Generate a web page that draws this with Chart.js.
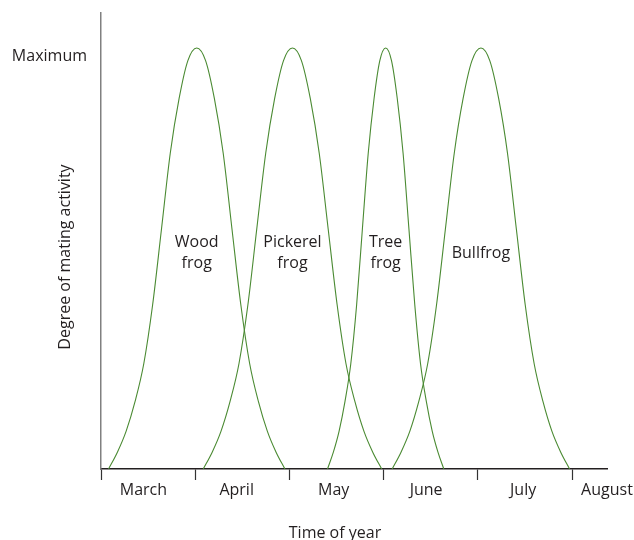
<!DOCTYPE html>
<html>
<head>
<meta charset="utf-8">
<script src="https://cdn.jsdelivr.net/npm/chart.js@4"></script>
<style>
  html, body { margin: 0; padding: 0; background: #fff; }
  #wrap { width: 634px; height: 540px; }
</style>
</head>
<body>
<div id="wrap"><canvas id="frogChart" width="634" height="540"></canvas></div>
<script>
// x = months after 1 March, y = degree of mating activity (100 = maximum)
const monthNames = ['March', 'April', 'May', 'June', 'July', 'August'];
const monthLabelPos = [0.45, 1.44, 2.47, 3.45, 4.48, 5.37];
const monthBounds = [0, 1, 2, 3, 4, 5];
const yTickValues = [98];
const yTickLabels = ['Maximum'];

const woodX = [0.080, 0.174, 0.267, 0.361, 0.454, 0.548, 0.642, 0.735, 0.829, 0.922, 1.016,
               1.110, 1.203, 1.297, 1.390, 1.484, 1.578, 1.671, 1.765, 1.858, 1.952];
const woodY = [0, 4, 9, 16, 25, 39, 57, 75, 88, 97, 100, 97, 88, 75, 57, 39, 25, 16, 9, 4, 0];

const pickerelX = [1.085, 1.180, 1.274, 1.369, 1.464, 1.559, 1.653, 1.748, 1.843, 1.937, 2.032,
                   2.127, 2.221, 2.316, 2.411, 2.506, 2.600, 2.695, 2.790, 2.884, 2.979];
const pickerelY = [0, 4, 9, 16, 25, 39, 57, 75, 88, 97, 100, 97, 88, 75, 57, 39, 25, 16, 9, 4, 0];

const treeX = [2.404, 2.466, 2.527, 2.589, 2.651, 2.713, 2.774, 2.836, 2.898, 2.959, 3.021,
               3.083, 3.144, 3.206, 3.268, 3.330, 3.391, 3.453, 3.515, 3.576, 3.638];
const treeY = [0, 4, 9, 16, 25, 39, 57, 75, 88, 97, 100, 97, 88, 75, 57, 39, 25, 16, 9, 4, 0];

const bullX = [3.090, 3.184, 3.278, 3.372, 3.467, 3.561, 3.655, 3.749, 3.843, 3.937, 4.032,
               4.126, 4.220, 4.314, 4.408, 4.502, 4.597, 4.691, 4.785, 4.879, 4.973];
const bullY = [0, 4, 9, 16, 25, 39, 57, 75, 88, 97, 100, 97, 88, 75, 57, 39, 25, 16, 9, 4, 0];

const seriesNames = [['Wood', 'frog'], ['Pickerel', 'frog'], ['Tree', 'frog'], ['Bullfrog']];

const FONT = '"Open Sans", "DejaVu Sans", sans-serif';
const TEXT = '#231f20';
const GREEN = '#4a8a32';

function toPoints(xs, ys) {
    return xs.map((x, i) => ({ x: x, y: ys[i] }));
}

function makeSet(name, xs, ys) {
    return {
        label: name,
        data: toPoints(xs, ys),
        borderColor: GREEN,
        borderWidth: 1.1,
        pointRadius: 0,
        fill: false,
        cubicInterpolationMode: 'monotone'
    };
}

// axis titles and the frog names inside the curves
const textPlugin = {
    id: 'textPlugin',
    afterDatasetsDraw(chart) {
        const { ctx, scales: { x, y } } = chart;
        ctx.save();
        ctx.fillStyle = TEXT;
        ctx.font = '16px ' + FONT;
        ctx.textAlign = 'center';
        ctx.textBaseline = 'alphabetic';

        chart.data.datasets.forEach((ds, i) => {
            const peak = ds.data.reduce((a, b) => (b.y > a.y ? b : a));
            const px = x.getPixelForValue(peak.x);
            const lines = seriesNames[i];
            const base = lines.length > 1 ? y.getPixelForValue(52.7) : y.getPixelForValue(50);
            lines.forEach((t, j) => ctx.fillText(t, px, base + j * 21));
        });

        // x title
        ctx.fillText('Time of year', 335, 538);

        // y title
        ctx.translate(70, 257);
        ctx.rotate(-Math.PI / 2);
        ctx.fillText('Degree of mating activity', 0, 0);
        ctx.restore();
    }
};

new Chart(document.getElementById('frogChart').getContext('2d'), {
    type: 'line',
    data: {
        datasets: [
            makeSet('Wood frog', woodX, woodY),
            makeSet('Pickerel frog', pickerelX, pickerelY),
            makeSet('Tree frog', treeX, treeY),
            makeSet('Bullfrog', bullX, bullY)
        ]
    },
    options: {
        responsive: false,
        animation: false,
        layout: { padding: { top: 13, right: 27, bottom: 0, left: 0 } },
        plugins: {
            legend: { display: false },
            tooltip: { enabled: false }
        },
        scales: {
            x: {
                type: 'linear',
                min: 0,
                max: 5.37,
                afterBuildTicks: s => {
                    s.ticks = monthBounds.concat(monthLabelPos).map(v => ({ value: v }));
                },
                afterFit: s => { s.height = 71; s.paddingLeft = 0; s.paddingRight = 0; },
                ticks: {
                    autoSkip: false,
                    maxRotation: 0,
                    padding: 1,
                    color: TEXT,
                    font: { family: FONT, size: 16 },
                    callback: v => {
                        const i = monthLabelPos.indexOf(v);
                        return i >= 0 ? monthNames[i] : '';
                    }
                },
                grid: {
                    drawOnChartArea: false,
                    drawTicks: true,
                    tickLength: 11,
                    tickWidth: 1.2,
                    tickColor: c => (c.tick && monthBounds.includes(c.tick.value)) ? '#333' : 'rgba(0,0,0,0)'
                },
                border: { display: true, color: '#231f20', width: 1.5 }
            },
            y: {
                min: 0,
                max: 108.3,
                afterBuildTicks: s => {
                    s.ticks = yTickValues.map(v => ({ value: v }));
                },
                afterFit: s => { s.width = 101; s.paddingTop = 0; s.paddingBottom = 0; },
                ticks: {
                    padding: 14,
                    color: TEXT,
                    font: { family: FONT, size: 16 },
                    callback: (v, i) => yTickLabels[i]
                },
                grid: { display: false, drawTicks: false },
                border: { display: true, color: '#808080', width: 1.5 }
            }
        }
    },
    plugins: [textPlugin]
});
</script>
</body>
</html>
